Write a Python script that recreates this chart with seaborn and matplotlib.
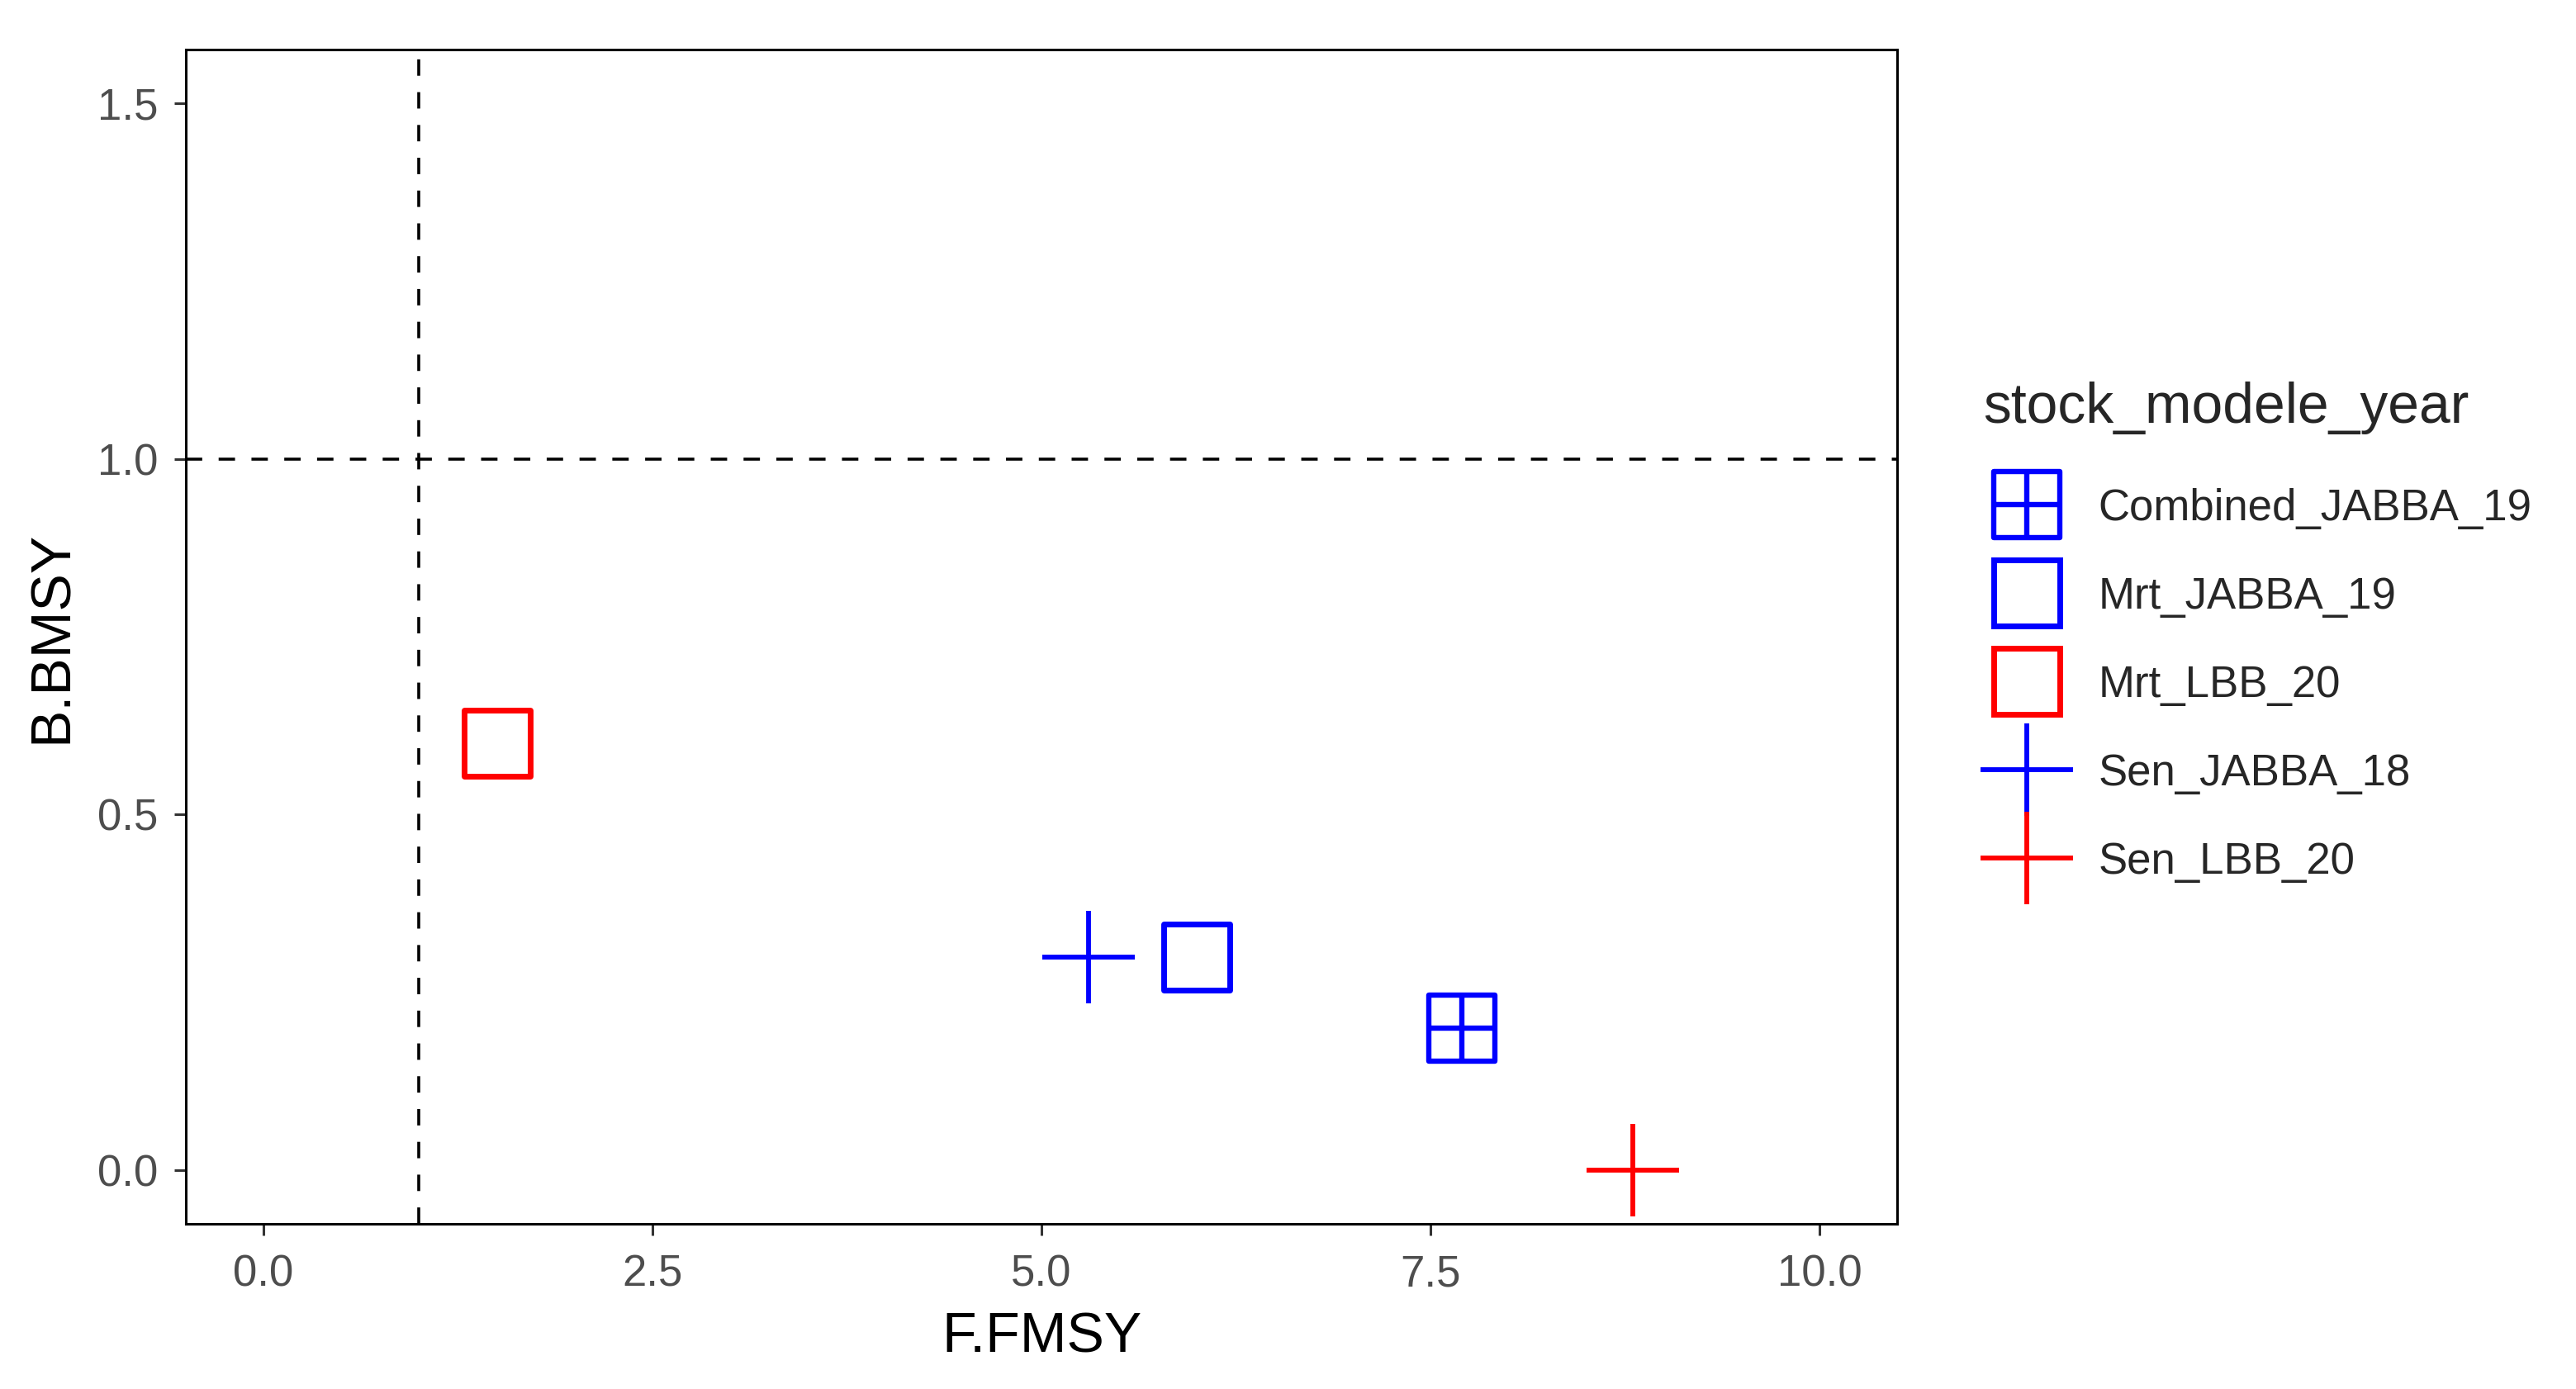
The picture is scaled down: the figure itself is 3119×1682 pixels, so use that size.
import numpy as np
import pandas as pd
import matplotlib
matplotlib.use("Agg")
import matplotlib.pyplot as plt
from matplotlib.path import Path
from matplotlib.lines import Line2D
import seaborn as sns

# stock status points
stocks = ["Combined_JABBA_19", "Mrt_JABBA_19", "Mrt_LBB_20", "Sen_JABBA_18", "Sen_LBB_20"]
f_fmsy = [7.7, 6.0, 1.5, 5.3, 8.8]
b_bmsy = [0.2, 0.3, 0.6, 0.3, 0.0]
colors = ["#0000FF", "#0000FF", "#FF0000", "#0000FF", "#FF0000"]
shapes = ["sqplus", "square", "square", "plus", "plus"]

x_ticks = [0.0, 2.5, 5.0, 7.5, 10.0]
y_ticks = [0.0, 0.5, 1.0, 1.5]

df = pd.DataFrame({"stock_modele_year": stocks, "F.FMSY": f_fmsy, "B.BMSY": b_bmsy})

# square with a cross inside (like R pch 12)
sqplus = Path(
    [(-1, -1), (1, -1), (1, 1), (-1, 1), (-1, -1),
     (0, -1), (0, 1), (-1, 0), (1, 0)],
    [Path.MOVETO, Path.LINETO, Path.LINETO, Path.LINETO, Path.CLOSEPOLY,
     Path.MOVETO, Path.LINETO, Path.MOVETO, Path.LINETO])
marker_map = {"sqplus": sqplus, "square": "s", "plus": "+"}
size_map = {"sqplus": 830, "square": 830, "plus": 1600}
msize_map = {"sqplus": 28.8, "square": 28.8, "plus": 40}
lw_map = {"sqplus": 2.3, "square": 2.5, "plus": 2.1}

sns.set_theme(style="ticks")
plt.rcParams["font.family"] = ["Liberation Sans", "DejaVu Sans"]

fig = plt.figure(figsize=(3119 / 200, 1682 / 200), dpi=200)
ax = fig.add_axes([0.0721, 0.1189, 0.6644, 0.8454])

for i, row in df.iterrows():
    shp = shapes[i]
    kw = {}
    if shp != "plus":
        kw = dict(facecolor="none", edgecolor=colors[i])
    sns.scatterplot(data=df.iloc[[i]], x="F.FMSY", y="B.BMSY", ax=ax,
                    marker=marker_map[shp], s=size_map[shp], color=colors[i],
                    linewidth=lw_map[shp], legend=False, zorder=3, **kw)

ax.axvline(1, color="black", lw=1.3, dashes=(5.5, 5.5), zorder=1)
ax.axhline(1, color="black", lw=1.3, dashes=(5.5, 5.5), zorder=1)

ax.set_xlim(-0.5, 10.5)
ax.set_ylim(-0.075, 1.575)
ax.set_xticks(x_ticks)
ax.set_yticks(y_ticks)
ax.set_xticklabels([f"{v:.1f}" for v in x_ticks])
ax.set_yticklabels([f"{v:.1f}" for v in y_ticks])
ax.tick_params(labelsize=19, colors="#333333", labelcolor="#4D4D4D",
               length=5, width=1.1)
ax.tick_params(axis="x", pad=8)
ax.tick_params(axis="y", pad=7)
for sp in ax.spines.values():
    sp.set_visible(True)
    sp.set_color("black")
    sp.set_linewidth(1.1)
ax.set_xlabel("F.FMSY", fontsize=24.5, color="black", labelpad=7)
ax.set_ylabel("B.BMSY", fontsize=24.5, color="black", labelpad=8.5)

handles = [Line2D([], [], linestyle="", marker=marker_map[s], markersize=msize_map[s],
                  markerfacecolor="none", markeredgecolor=c, markeredgewidth=lw_map[s])
           for s, c in zip(shapes, colors)]
leg = fig.legend(handles, stocks, title="stock_modele_year", loc="upper left",
                 bbox_to_anchor=(0.763, 0.738), frameon=False, fontsize=19,
                 title_fontsize=24.4, labelspacing=1.08, handletextpad=0.64,
                 borderaxespad=0)
leg._legend_box.align = "left"
leg._legend_box.sep += 2.9

fig.savefig("out.png", dpi=200)
